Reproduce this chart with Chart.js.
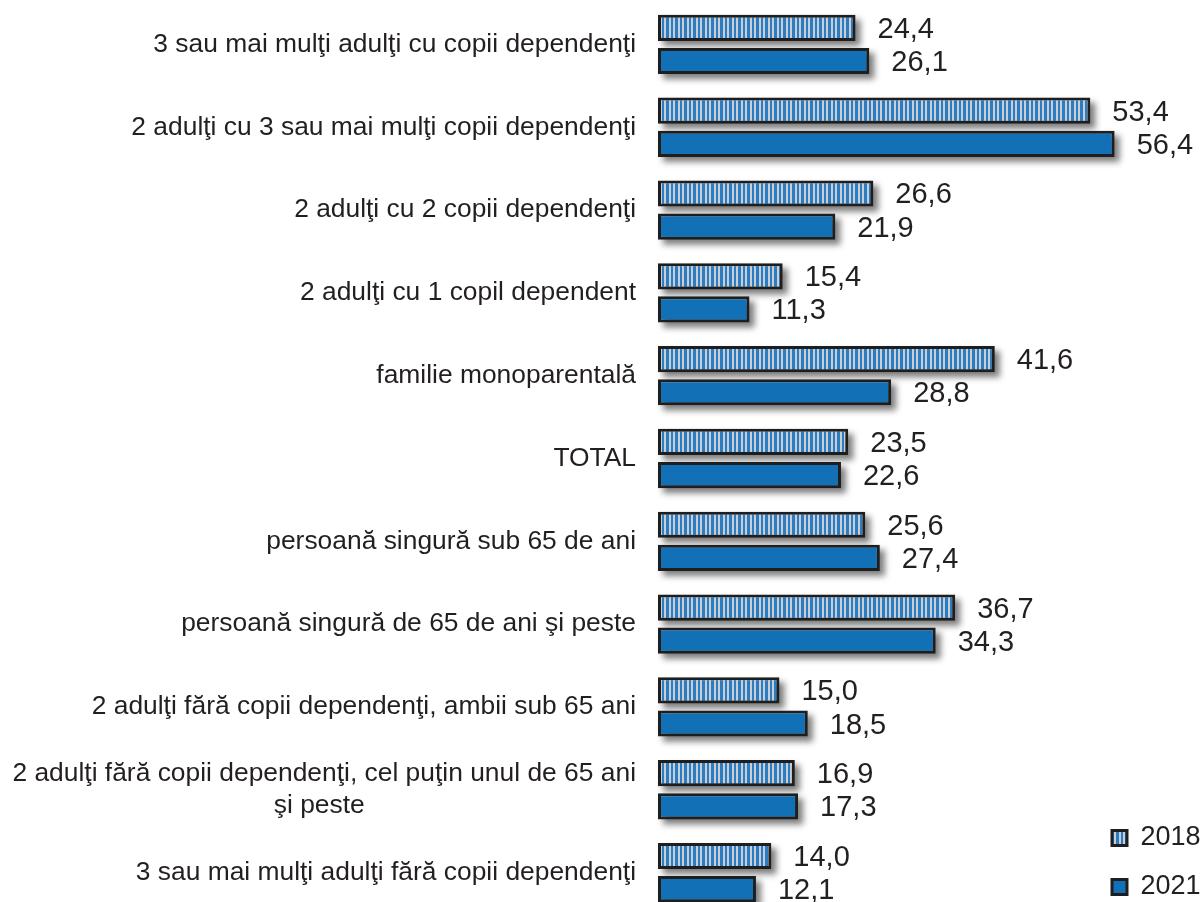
<!DOCTYPE html>
<html>
<head>
<meta charset="utf-8">
<script src="https://cdn.jsdelivr.net/npm/chart.js@4.4.1/dist/chart.umd.min.js"></script>
<style>
    html, body { margin: 0; padding: 0; background: #fff; overflow: hidden; }
    #wrap { width: 1202px; height: 920px; position: relative; }
</style>
</head>
<body>
<div id="wrap"><canvas id="chart"></canvas></div>
<script>
var categories = [
    '3 sau mai mulţi adulţi cu copii dependenţi',
    '2 adulţi cu 3 sau mai mulţi copii dependenţi',
    '2 adulţi cu 2 copii dependenţi',
    '2 adulţi cu 1 copil dependent',
    'familie monoparentală',
    'TOTAL',
    'persoană singură sub 65 de ani',
    'persoană singură de 65 de ani şi peste',
    '2 adulţi fără copii dependenţi, ambii sub 65 ani',
    ['2 adulţi fără copii dependenţi, cel puţin unul de 65 ani', 'şi peste                                     '],
    '3 sau mai mulţi adulţi fără copii dependenţi'
];
var seriesNames = ['2018', '2021'];
var values2018 = [24.4, 53.4, 26.6, 15.4, 41.6, 23.5, 25.6, 36.7, 15.0, 16.9, 14.0];
var values2021 = [26.1, 56.4, 21.9, 11.3, 28.8, 22.6, 27.4, 34.3, 18.5, 17.3, 12.1];

var FONT = '"Liberation Sans", Arial, sans-serif';
var TEXT = '#231f20';
var BLUE = '#1270b7';

// vertical stripes for the 2018 bars
function stripes() {
    var c = document.createElement('canvas');
    c.width = 9; c.height = 4;
    var g = c.getContext('2d');
    g.fillStyle = '#c9ced4';
    g.fillRect(0, 0, 9, 4);
    g.fillStyle = '#2a7dc2';
    g.fillRect(0, 0, 3, 4);
    g.fillRect(5, 0, 2, 4);
    return g.createPattern(c, 'repeat');
}

// soft drop shadow under every bar, then the value labels on top
var barShadow = {
    id: 'barShadow',
    beforeDatasetsDraw: function(chart) {
        var ctx = chart.ctx;
        ctx.save();
        ctx.filter = 'blur(3px)';
        ctx.fillStyle = 'rgba(40, 40, 40, 0.6)';
        chart.data.datasets.forEach(function(ds, i) {
            chart.getDatasetMeta(i).data.forEach(function(bar) {
                var left = Math.min(bar.base, bar.x);
                var w = Math.abs(bar.x - bar.base);
                ctx.fillRect(left + 5, bar.y - bar.height / 2 + 5, w, bar.height);
            });
        });
        ctx.restore();
    },
    afterDatasetsDraw: function(chart) {
        var ctx = chart.ctx;
        ctx.save();
        ctx.font = '29px ' + FONT;
        ctx.fillStyle = TEXT;
        ctx.textAlign = 'left';
        ctx.textBaseline = 'middle';
        chart.data.datasets.forEach(function(ds, i) {
            chart.getDatasetMeta(i).data.forEach(function(bar, j) {
                ctx.fillText(ds.data[j].toFixed(1).replace('.', ','), bar.x + 22, bar.y + 2);
            });
        });
        ctx.restore();
    }
};

// move the legend into the bottom right corner
var legendPlace = {
    id: 'legendPlace',
    afterLayout: function(chart) {
        var lg = chart.legend;
        var pad = lg.options.labels.padding;
        var dx = 1112 - (lg.left + pad);
        var dy = 887 - (lg.bottom - pad - 27 / 2);
        lg.left += dx; lg.right += dx;
        lg.top += dy; lg.bottom += dy;
    }
};

new Chart(document.getElementById('chart').getContext('2d'), {
    type: 'bar',
    data: {
        labels: categories,
        datasets: [
            {
                label: seriesNames[0],
                data: values2018,
                backgroundColor: stripes(),
                borderColor: '#1e1e1e',
                borderWidth: 3,
                borderSkipped: false,
                clip: false,
                categoryPercentage: 0.8,
                barPercentage: 0.79
            },
            {
                label: seriesNames[1],
                data: values2021,
                backgroundColor: BLUE,
                borderColor: '#1e1e1e',
                borderWidth: 3,
                borderSkipped: false,
                clip: false,
                categoryPercentage: 0.8,
                barPercentage: 0.79
            }
        ]
    },
    options: {
        indexAxis: 'y',
        responsive: true,
        maintainAspectRatio: false,
        animation: false,
        layout: {padding: {top: 3, bottom: 6, left: 0, right: 0}},
        scales: {
            x: {display: false, min: 0, max: 52.3},
            y: {
                grid: {display: false, drawTicks: false},
                border: {display: false},
                ticks: {color: TEXT, font: {family: FONT, size: 26.4}, padding: 22},
                afterFit: function(scale) {
                    scale.width = 658;
                    scale.paddingTop = 0;
                    scale.paddingBottom = 0;
                }
            }
        },
        plugins: {
            legend: {
                position: 'right',
                align: 'end',
                labels: {
                    color: TEXT,
                    font: {family: FONT, size: 27},
                    boxWidth: 15,
                    boxHeight: 15,
                    padding: 22
                }
            },
            tooltip: {enabled: false}
        }
    },
    plugins: [barShadow, legendPlace]
});
</script>
</body>
</html>
